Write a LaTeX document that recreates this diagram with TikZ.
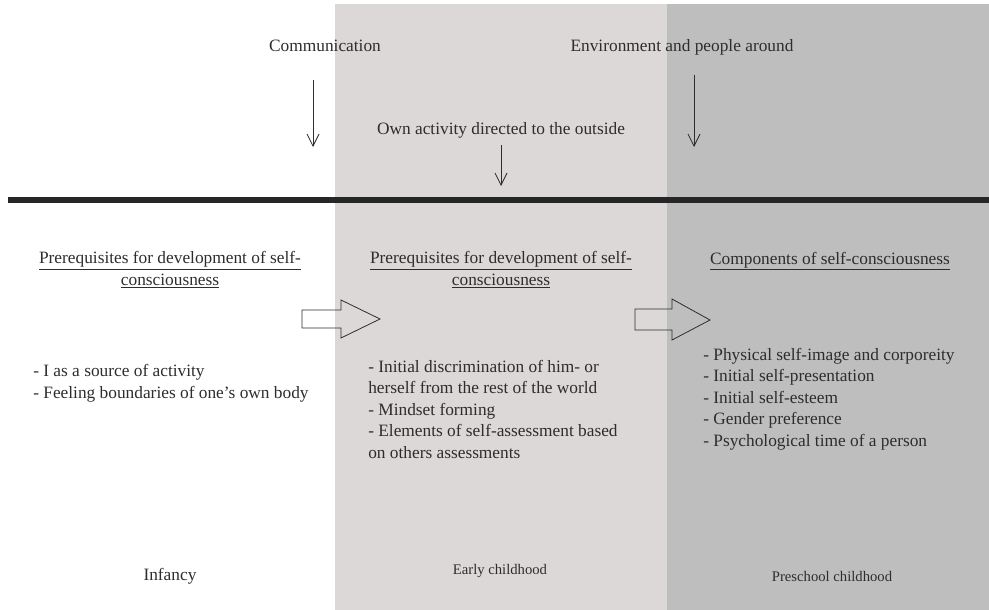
\documentclass[tikz,border=0pt]{standalone}
\usepackage{fontspec}
\setmainfont{Liberation Serif}
\usetikzlibrary{arrows.meta}
\definecolor{bandlight}{RGB}{220,216,215}
\definecolor{banddark}{RGB}{190,190,190}
\definecolor{inkgray}{RGB}{45,45,45}
\begin{document}
\begin{tikzpicture}[x=0.75pt,y=-0.75pt,
  every node/.style={text=inkgray,inner sep=0pt,font=\fontsize{13}{16.1}\selectfont},
  heading/.style={align=center,anchor=base},
  list/.style={align=left,anchor=base west},
  age/.style={anchor=base,font=\fontsize{11}{13}\selectfont},
  >={Straight Barb[length=9pt,width=9pt]},
  influence/.style={->,draw=inkgray,line width=0.6pt},
  blockarrow/.style={draw=inkgray,line width=0.6pt}]
\useasboundingbox (0,0) rectangle (989,610);

% age bands
\fill[bandlight](335,4) rectangle (667,610);
\fill[banddark](667,4) rectangle (989,610);

% influences
\node[anchor=base] (comm) at (325,52) {Communication};
\node[anchor=base] (envir) at (682,52) {Environment and people around};
\node[anchor=base] (ownact) at (501,134) {Own activity directed to the outside};
\coordinate (commA) at (313,80);   \coordinate (commB) at (313,147);
\coordinate (envirA) at (694,75);  \coordinate (envirB) at (694,147);
\coordinate (ownactA) at (501,145); \coordinate (ownactB) at (501,186);
\draw[influence](commA)--(commB);
\draw[influence](envirA)--(envirB);
\draw[influence](ownactA)--(ownactB);

\coordinate (lineA) at (8,200); \coordinate (lineB) at (989,200);
\draw[line width=3.8pt,draw=black!85](lineA)--(lineB);

% stages (multi-line nodes sit on their last baseline)
\node[heading] (headI) at (170,285) {\underline{Prerequisites for development of self-}\\\underline{consciousness}};
\node[heading] (headE) at (501,285) {\underline{Prerequisites for development of self-}\\\underline{consciousness}};
\node[heading] (headP) at (830,264) {\underline{Components of self-consciousness}};

\draw[blockarrow](302,310)--(341,310)--(341,300)--(380,319)--(341,338)--(341,328)--(302,328)--cycle;
\draw[blockarrow](635,309)--(672,309)--(672,299)--(710,320)--(672,340)--(672,330)--(635,330)--cycle;

\node[list] (listI) at (33,398) {- I as a source of activity\\- Feeling boundaries of one’s own body};
\node[list] (listE) at (368,458) {- Initial discrimination of him- or\\herself from the rest of the world\\- Mindset forming\\- Elements of self-assessment based\\on others assessments};
\node[list] (listP) at (703,446) {- Physical self-image and corporeity\\- Initial self-presentation\\- Initial self-esteem\\- Gender preference\\- Psychological time of a person};

\node[age,font=\fontsize{13}{15}\selectfont] (ageI) at (170,580) {Infancy};
\node[age] (ageE) at (500,574) {Early childhood};
\node[age] (ageP) at (832,581) {Preschool childhood};
\end{tikzpicture}
\end{document}
